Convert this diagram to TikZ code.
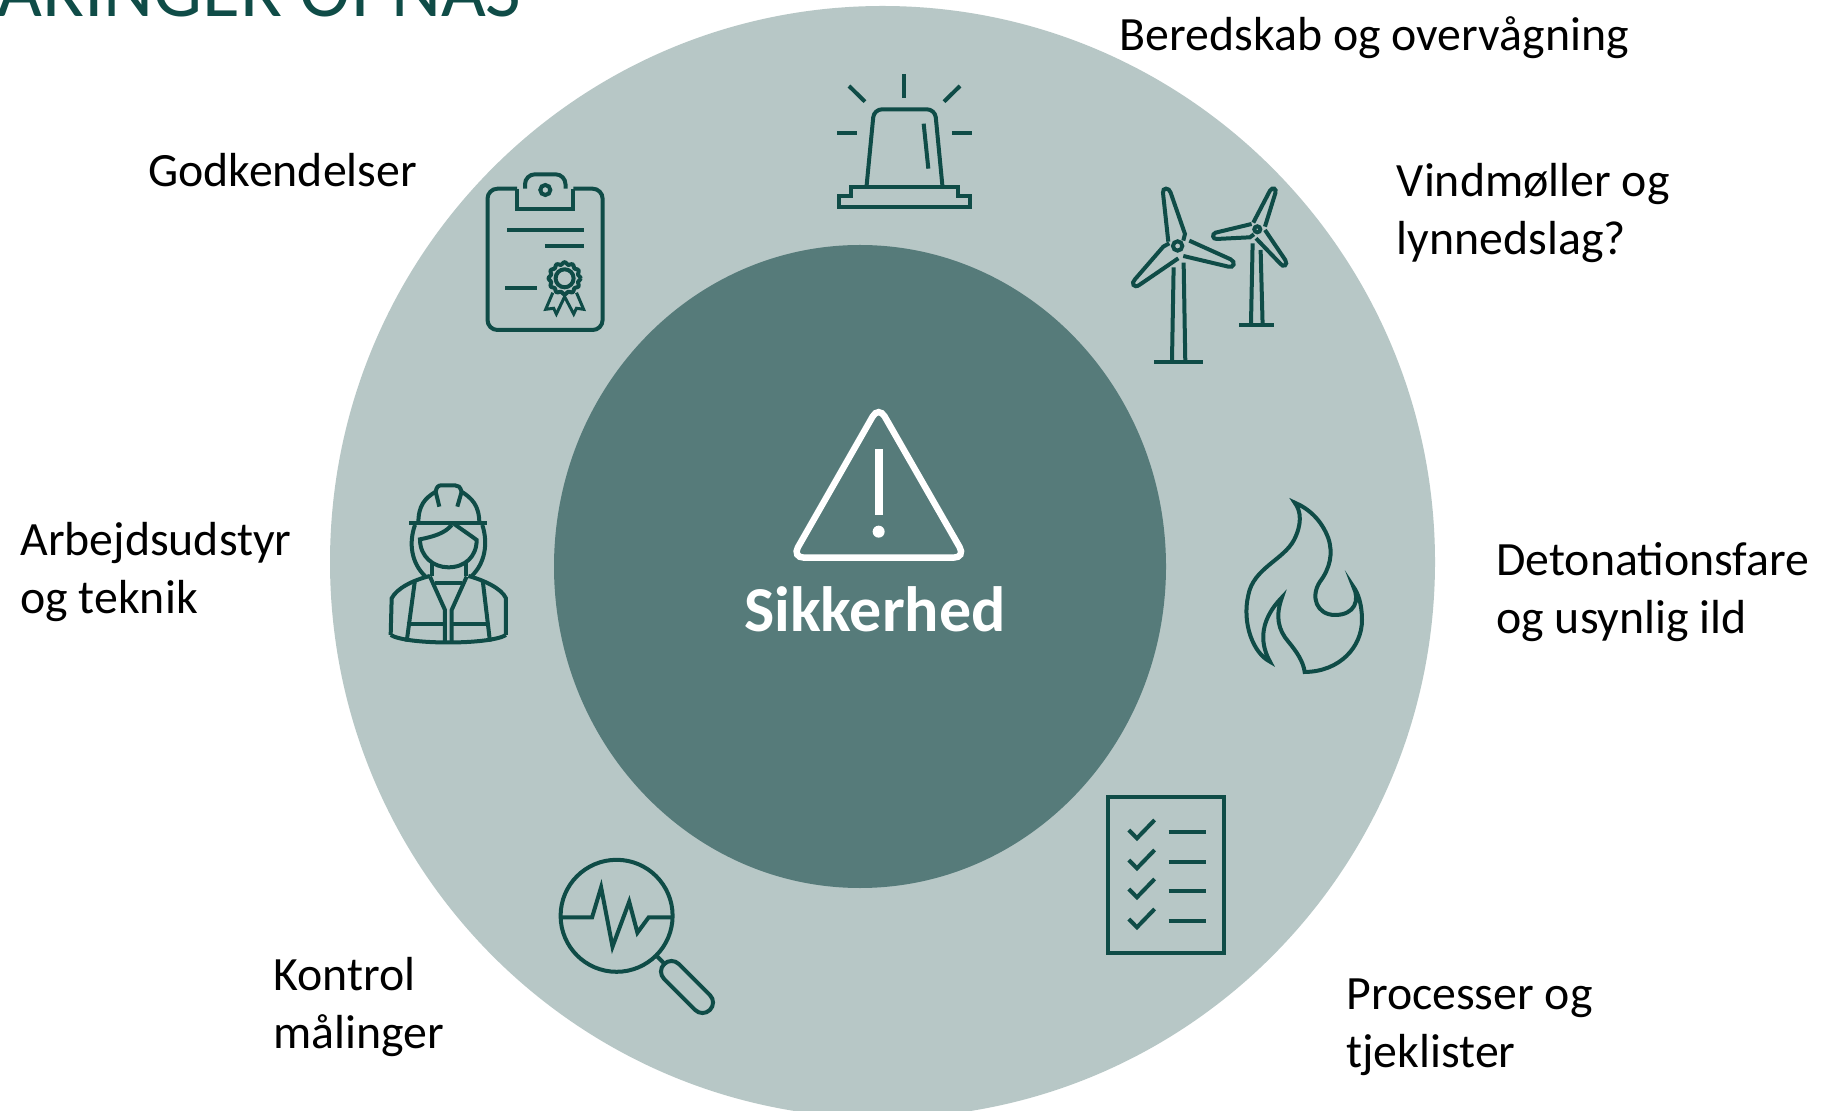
\documentclass[tikz,border=0pt]{standalone}
\usepackage{fontspec}
\setmainfont{Carlito}
\definecolor{ringcol}{HTML}{B7C7C6}
\definecolor{corecol}{HTML}{567B7A}
\definecolor{iconcol}{HTML}{0F4C47}
\tikzset{
  icon/.style={draw=iconcol, line width=2pt},
  lbl/.style={font=\fontsize{23.9}{28.75}\selectfont, align=left, inner sep=0pt, anchor=base west}
}
\begin{document}
\begin{tikzpicture}[x=0.5pt, y=-0.5pt]
   \useasboundingbox (0,0) rectangle (1840,1111);
   \clip (0,0) rectangle (1840,1111);
   \fill[white] (0,0) rectangle (1840,1111);
   \fill[ringcol] (882.5,562) ellipse (552.5 and 556);
   \fill[corecol] (860,566.5) ellipse (306 and 321.5);

   \node[inner sep=0pt, anchor=base west, text=iconcol, font=\fontsize{38.7}{39}\selectfont] (title) at (-3,17) {ARINGER OPNAS};
   \node[lbl] (beredskab) at (1119.5,51) {Beredskab og overvågning};
   \node[lbl] (vind) at (1396.5,254.5) {Vindmøller og\\lynnedslag?};
   \node[lbl] (godkend) at (148,187) {Godkendelser};
   \node[lbl] (arbejd) at (20,613.5) {Arbejdsudstyr\\og teknik};
   \node[lbl] (deton) at (1496,633) {Detonationsfare\\og usynlig ild};
   \node[lbl] (kontrol) at (273,1048) {Kontrol\\målinger};
   \node[lbl] (proces) at (1346,1067) {Processer og\\tjeklister};
   \node[inner sep=0pt, anchor=base, text=white, font=\fontsize{32}{32}\selectfont\bfseries] (sikker) at (875,632) {Sikkerhed};

   % warning sign
   \begin{scope}[shift={(760,390)}, scale=0.3333]
      \draw[white, line width=3.2pt, rounded corners=6pt] (356,48) -- (617,503) -- (96,503) -- cycle;
      \fill[white] (345,178) rectangle (368,375);
      \fill[white] (356,425) circle (18);
   \end{scope}

   % siren and wind turbines
   \begin{scope}[shift={(800,50)}, scale=0.3333]
      \draw[icon] (313,72) -- (313,143);
      \draw[icon] (147,108) -- (195,155);
      \draw[icon] (480,108) -- (432,155);
      \draw[icon] (111,248) -- (171,248);
      \draw[icon] (456,250) -- (516,250);
      \draw[icon, rounded corners=4pt] (200,405) -- (222,178) -- (405,178) -- (427,405);
      \draw[icon] (371,221) -- (385,356);
      \draw[icon] (153,410) -- (474,410) -- (474,439) -- (511,439) -- (511,470) -- (116,470) -- (116,439) -- (153,439) -- cycle;

      \draw[icon] (1133,588) circle (14);
      \draw[icon] (1105,575) -- (1089,428) .. controls (1087,412) and (1108,412) .. (1112,428) -- (1155,552) -- (1150,572);
      \draw[icon] (1168,572) -- (1292,628) .. controls (1308,636) and (1302,655) .. (1285,650) -- (1150,618);
      \draw[icon] (1135,625) -- (1018,705) .. controls (1002,716) and (992,700) .. (1005,688) -- (1090,590) -- (1108,580);
      \draw[icon] (1121,652) -- (1116,935);
      \draw[icon] (1151,638) -- (1156,935);
      \draw[icon] (1063,936) -- (1208,936);

      \draw[icon] (1372,538) circle (9);
      \draw[icon] (1360,518) -- (1410,422) .. controls (1418,410) and (1431,415) .. (1426,430) -- (1395,530);
      \draw[icon] (1355,522) -- (1247,548) .. controls (1235,552) and (1238,568) .. (1250,567) -- (1350,562) -- (1362,553);
      \draw[icon] (1395,540) -- (1456,630) .. controls (1465,645) and (1450,655) .. (1440,640) -- (1368,565);
      \draw[icon] (1358,580) -- (1353,825);
      \draw[icon] (1382,600) -- (1388,825);
      \draw[icon] (1318,826) -- (1422,826);
   \end{scope}

   % clipboard
   \draw[icon, rounded corners=5pt] (517.2,188.7) -- (487.5,188.7) -- (487.5,330) -- (602.6,330) -- (602.6,188.7) -- (573.4,188.7);
   \draw[icon] (517.2,188.7) -- (517.2,209.3) -- (573.4,209.3) -- (573.4,188.7);
   \draw[icon, rounded corners=5pt] (525,188.7) -- (525,174.3) -- (565.5,174.3) -- (565.5,188.7);
   \draw[icon] (545.3,190) circle (5);
   \draw[icon] (507.3,230.3) -- (584.4,230.3);
   \draw[icon] (544.9,246.3) -- (584.4,246.3);
   \draw[icon] (505,288) -- (537,288);
   \draw[icon] plot[domain=0:360, samples=97, smooth] ({564.6+(15+1*cos(12*\x))*cos(\x)}, {278.3+(15+1*cos(12*\x))*sin(\x)});
   \draw[icon] (564.6,278.3) circle (9);
   \draw[icon, line width=1.5pt] (552.8,292.7) -- (545.7,309.3) -- (553.6,308.3) -- (556.4,314) -- (564.6,296.7) -- (573.7,314) -- (576.5,308.3) -- (583.6,309.3) -- (576.5,292.7);

   % worker
   \begin{scope}[shift={(370,470)}, scale=0.3333]
      \draw[icon] (118,160) -- (352,160);
      \draw[icon] (145,160) .. controls (145,105) and (165,85) .. (197,65) .. controls (200,50) and (205,46) .. (215,46) -- (255,46) .. controls (265,46) and (270,50) .. (275,65) .. controls (305,85) and (328,105) .. (328,160);
      \draw[icon] (197,65) -- (208,110);
      \draw[icon] (275,65) -- (262,110);
      \draw[icon] (135,165) .. controls (115,220) and (125,280) .. (165,318);
      \draw[icon] (337,165) .. controls (355,220) and (345,280) .. (305,318);
      \draw[icon] (245,165) .. controls (225,190) and (190,200) .. (150,208) .. controls (150,260) and (190,292) .. (235,292) .. controls (285,292) and (320,260) .. (320,210) .. controls (300,195) and (270,175) .. (250,160);
      \draw[icon] (187,280) -- (187,318);
      \draw[icon] (287,280) -- (287,318);
      \draw[icon] (195,340) -- (277,340);
      \draw[icon] (180,318) .. controls (130,330) and (80,355) .. (65,385) -- (62,495);
      \draw[icon] (295,318) .. controls (340,330) and (395,355) .. (408,385) -- (408,495);
      \draw[icon] (62,495) .. controls (110,525) and (360,525) .. (408,495);
      \draw[icon] (135,330) -- (110,515);
      \draw[icon] (338,330) -- (360,515);
      \draw[icon] (180,320) -- (225,420) -- (225,518);
      \draw[icon] (290,320) -- (245,420) -- (245,518);
      \draw[icon] (110,462) -- (225,462);
      \draw[icon] (245,462) -- (358,462);
   \end{scope}

   % flame
   \begin{scope}[shift={(1220,480)}, scale=0.3333]
      \draw[icon, miter limit=10] (224,68) .. controls (245,95) and (245,135) .. (222,180) .. controls (190,240) and (100,265) .. (85,345) .. controls (65,430) and (100,520) .. (150,545) .. controls (125,500) and (110,430) .. (186,352) .. controls (165,410) and (175,450) .. (205,485) .. controls (230,515) and (250,545) .. (254,576) .. controls (360,575) and (426,500) .. (426,420) .. controls (426,375) and (415,340) .. (400,320) .. controls (420,360) and (405,405) .. (345,405) .. controls (290,405) and (270,350) .. (300,305) .. controls (330,265) and (340,220) .. (325,175) .. controls (305,120) and (265,85) .. (224,68) -- cycle;
   \end{scope}

   % magnifier
   \draw[icon] (616.6,915.8) circle (56);
   \draw[icon] (560.4,917.3) -- (592.1,917.3) -- (601.1,887.3) -- (612.5,946.7) -- (629.2,901.7) -- (637.4,932.7) -- (648.7,917.3) -- (672.7,917.3);
   \draw[icon] (656.8,956) -- (665.9,965.3);
   \begin{scope}[shift={(687,987)}, rotate=-45]
      \draw[icon, rounded corners=5.2pt] (-32.4,-10.5) rectangle (32.4,10.5);
   \end{scope}

   % checklist
   \draw[icon] (1108.4,797.3) rectangle (1223.9,952.7);
   \foreach \dy in {0,30,59,89} {
      \draw[icon] (1128.8,830+\dy) -- (1136.9,838.3+\dy) -- (1154.6,820+\dy);
      \draw[icon] (1168.6,831.7+\dy) -- (1205.8,831.7+\dy);
   }
\end{tikzpicture}
\end{document}
